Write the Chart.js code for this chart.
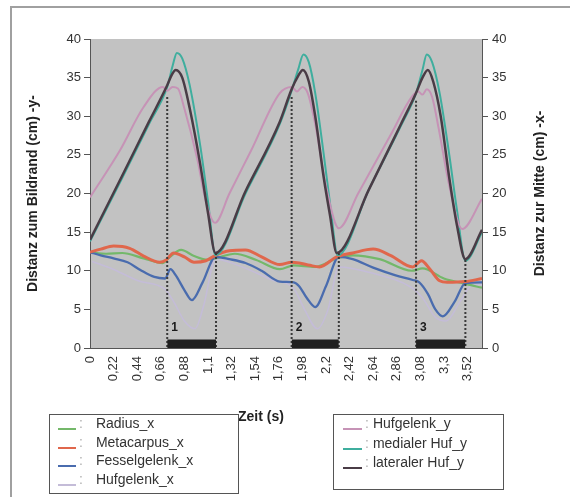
<!DOCTYPE html>
<html lang="de">
<head>
    <meta charset="UTF-8">
    <title>Distanz-Zeit-Verlauf</title>
    <script src="https://cdn.jsdelivr.net/npm/chart.js"></script>
    <style>
        body {
            margin: 0;
            background: #fff;
            font-family: "Liberation Sans", Arial, sans-serif;
        }
        #wrap {
            position: relative;
            width: 570px;
            height: 497px;
            overflow: hidden;
        }
        #chart {
            position: absolute;
            left: 0;
            top: 0;
        }
        #frame {
            position: absolute;
            left: 10px;
            top: 6px;
            width: 580px;
            height: 520px;
            border: 2px solid #a0a0a0;
        }
        .legend {
            position: absolute;
            border: 1px solid #555;
            background: #fff;
        }
        .row {
            position: absolute;
            font-size: 14px;
            color: #333;
            white-space: nowrap;
            line-height: 16px;
        }
        .sample {
            position: absolute;
            height: 2px;
        }
        .colon {
            color: #b0b0b0;
        }
        #xTitle {
            position: absolute;
            left: 238px;
            top: 408px;
            font-weight: bold;
            font-size: 14px;
            color: #222;
        }
    </style>
</head>
<body>
<div id="wrap">
    <div id="frame"></div>
    <canvas id="chart" width="570" height="497"></canvas>
    <div id="xTitle">Zeit (s)</div>
    <div class="legend" id="legendX" style="left:49px;top:414px;width:188px;height:78px;"></div>
    <div class="legend" id="legendY" style="left:333px;top:414px;width:169px;height:74px;"></div>
</div>

<script>
    // Zeitachse
    const xTicks = [0, 0.22, 0.44, 0.66, 0.88, 1.1, 1.32, 1.54, 1.76, 1.98, 2.2, 2.42, 2.64, 2.86, 3.08, 3.3, 3.52];
    const xTickLabels = ['0', '0,22', '0,44', '0,66', '0,88', '1,1', '1,32', '1,54', '1,76', '1,98', '2,2', '2,42', '2,64', '2,86', '3,08', '3,3', '3,52'];

    // -y- Kurven (Distanz zum Bildrand)
    const lateralT = [0, 0.3, 0.55, 0.72, 0.76, 0.8, 0.86, 0.93, 1.025, 1.1, 1.17, 1.45, 1.77, 1.88, 1.94, 1.985, 2.04, 2.1, 2.18, 2.24, 2.3, 2.6, 2.9, 3.04, 3.1, 3.15, 3.2, 3.27, 3.35, 3.42, 3.5, 3.655];
    const lateralV = [14, 22.3, 29.3, 34, 35.3, 36, 35, 31, 24, 17.5, 12.3, 20.3, 29.3, 33.5, 35.2, 36, 34.5, 30, 22, 17, 12.3, 20.5, 29, 33, 35, 36, 34.5, 30, 22, 16, 11.5, 15.3];

    const medialT = [0, 0.3, 0.55, 0.72, 0.77, 0.81, 0.86, 0.93, 1.03, 1.1, 1.17, 1.45, 1.77, 1.88, 1.94, 1.99, 2.04, 2.1, 2.18, 2.24, 2.31, 2.6, 2.9, 3.04, 3.1, 3.14, 3.19, 3.26, 3.35, 3.42, 3.5, 3.655];
    const medialV = [13.8, 22, 29, 33.8, 36.5, 38.2, 37.5, 34, 26, 19, 12, 20, 29, 33.3, 36, 38, 37, 33, 25, 18.5, 12, 20.5, 28.8, 33, 36, 38, 37, 33, 25, 18, 11.3, 15];

    const hufYT = [0, 0.28, 0.5, 0.68, 0.72, 0.77, 0.82, 0.88, 1.0, 1.08, 1.165, 1.3, 1.5, 1.77, 1.88, 1.93, 1.98, 2.03, 2.1, 2.2, 2.32, 2.5, 2.8, 3.0, 3.06, 3.1, 3.14, 3.19, 3.25, 3.35, 3.47, 3.655];
    const hufYV = [19.5, 25.6, 31.2, 33.8, 33.3, 33.8, 33.6, 31, 24.5, 19, 16.2, 20, 25.5, 33, 33.8, 33.2, 33.8, 33, 29, 21, 15.5, 20, 27.5, 32.5, 33.2, 32.8, 33.5, 32.5, 28.5, 21, 15.4, 19.3];

    // -x- Kurven (Distanz zur Mitte)
    const radiusT = [0, 0.15, 0.3, 0.5, 0.68, 0.73, 0.85, 0.97, 1.1, 1.17, 1.35, 1.55, 1.77, 1.9, 2.1, 2.3, 2.45, 2.7, 3.0, 3.1, 3.3, 3.5, 3.655];
    const radiusV = [12.4, 12.2, 12.3, 11.6, 11, 11.6, 12.7, 11.9, 11.4, 11.6, 12.2, 11.4, 10.2, 10.7, 10.5, 11.6, 12, 11.5, 10, 10.3, 9, 8.3, 7.8];

    const metaT = [0, 0.1, 0.22, 0.37, 0.5, 0.65, 0.71, 0.78, 0.88, 0.97, 1.08, 1.17, 1.3, 1.45, 1.6, 1.77, 1.88, 1.95, 2.05, 2.14, 2.3, 2.45, 2.64, 2.8, 3.01, 3.09, 3.17, 3.26, 3.33, 3.5, 3.655];
    const metaV = [12.4, 12.8, 13.2, 12.9, 11.9, 11.1, 11.4, 12.3, 11.8, 11.1, 11.3, 12, 12.6, 12.7, 11.8, 10.8, 11.1, 11, 10.7, 10.5, 11.8, 12.3, 12.8, 12, 10.5, 11.3, 10.2, 8.7, 8.5, 8.6, 9];

    const fesselT = [0, 0.1, 0.22, 0.35, 0.47, 0.6, 0.7, 0.75, 0.8, 0.88, 0.95, 1.05, 1.17, 1.3, 1.45, 1.6, 1.77, 1.9, 1.95, 2.02, 2.1, 2.2, 2.32, 2.45, 2.64, 2.85, 3.01, 3.07, 3.15, 3.22, 3.29, 3.4, 3.5, 3.655];
    const fesselV = [12.4, 12, 11.6, 11.1, 10.1, 9.2, 9.0, 10.2, 9.4, 7.5, 6.2, 8.5, 11.8, 11.5, 11, 10, 8.6, 8.5, 8.0, 6.5, 5.3, 8, 11.8, 11.5, 10.4, 9.4, 8.8, 8.5, 7, 5, 4.1, 6, 8.4, 8.5];

    const hufXT = [0.02, 0.2, 0.45, 0.7, 0.78, 0.88, 0.98, 1.06, 1.17, 1.4, 1.7, 1.9, 2.0, 2.12, 2.22, 2.32, 2.6, 3.0, 3.1, 3.22, 3.32, 3.45, 3.55, 3.655];
    const hufXV = [11.2, 10.3, 8.7, 7.6, 6, 3.5, 2.5, 5.5, 11.5, 10.6, 8.8, 7.7, 5, 2.5, 5, 10.5, 9.8, 7.8, 6.5, 4, 3.5, 6, 8, 8.2];

    // Stützphasen 1-3
    const phaseLabels = ['1', '2', '3'];
    const phaseStart = [0.72, 1.88, 3.04];
    const phaseEnd = [1.175, 2.32, 3.5];
    const startTop = [32.5, 32.5, 32];
    const endTop = [12.3, 12.3, 11.4];
    const barHeight = 1.1;

    const pts = (t, v) => t.map((x, i) => ({ x: x, y: v[i] }));

    function curve(label, t, v, color, width, axis, order) {
        return {
            label: label,
            data: pts(t, v),
            borderColor: color,
            borderWidth: width,
            pointRadius: 0,
            cubicInterpolationMode: 'monotone',
            fill: false,
            yAxisID: axis,
            order: order
        };
    }

    const series = [
        curve('Radius_x', radiusT, radiusV, '#74b86a', 2.2, 'y2', 6),
        curve('Metacarpus_x', metaT, metaV, '#e0674c', 3, 'y2', 4),
        curve('Fesselgelenk_x', fesselT, fesselV, '#4a6cae', 2.3, 'y2', 5),
        curve('Hufgelenk_x', hufXT, hufXV, '#c4bcd8', 1.5, 'y2', 7),
        curve('Hufgelenk_y', hufYT, hufYV, '#c693b6', 2, 'y', 2),
        curve('medialer Huf_y', medialT, medialV, '#3fae9e', 2, 'y', 3),
        curve('lateraler Huf_y', lateralT, lateralV, '#4a3c46', 2.5, 'y', 1)
    ];

    const extras = [];
    phaseStart.forEach((s, i) => {
        extras.push({
            data: [{ x: s, y: barHeight }, { x: phaseEnd[i], y: barHeight }],
            borderWidth: 0, pointRadius: 0, fill: 'origin',
            backgroundColor: '#202020', borderColor: '#202020', order: 0
        });
        extras.push({
            data: [{ x: s, y: startTop[i] }, { x: s, y: 0 }],
            borderColor: '#3a3a3a', borderWidth: 2, borderDash: [2, 2], pointRadius: 0, fill: false, order: 0
        });
        extras.push({
            data: [{ x: phaseEnd[i], y: endTop[i] }, { x: phaseEnd[i], y: 0 }],
            borderColor: '#3a3a3a', borderWidth: 2, borderDash: [2, 2], pointRadius: 0, fill: false, order: 0
        });
    });

    const plotBg = {
        id: 'plotBg',
        beforeDraw(chart) {
            const a = chart.chartArea;
            const c = chart.ctx;
            c.save();
            c.fillStyle = '#c2c2c2';
            c.fillRect(a.left, a.top, a.right - a.left, a.bottom - a.top);
            c.restore();
        },
        afterDraw(chart) {
            const c = chart.ctx;
            const xs = chart.scales.x, ys = chart.scales.y;
            c.save();
            // Phasennummern
            c.font = 'bold 12px "Liberation Sans", Arial';
            c.fillStyle = '#1a1a1a';
            c.textBaseline = 'middle';
            phaseStart.forEach((s, i) => {
                c.fillText(phaseLabels[i], xs.getPixelForValue(s) + 4, ys.getPixelForValue(2.6));
            });
            // rechter Achsentitel (von unten nach oben)
            const a = chart.chartArea;
            c.translate(540, (a.top + a.bottom) / 2);
            c.rotate(-Math.PI / 2);
            c.font = 'bold 14px "Liberation Sans", Arial';
            c.fillStyle = '#222';
            c.textAlign = 'center';
            c.fillText('Distanz zur Mitte (cm) -x-', 0, 0);
            c.restore();
        }
    };

    const tickFont = { family: '"Liberation Sans", Arial', size: 13 };

    new Chart(document.getElementById('chart'), {
        type: 'line',
        data: { datasets: series.concat(extras) },
        options: {
            responsive: false,
            animation: false,
            layout: { padding: { top: 39, left: 0, right: 0, bottom: 0 } },
            plugins: { legend: { display: false }, tooltip: { enabled: false } },
            scales: {
                x: {
                    type: 'linear',
                    min: 0,
                    max: 3.655,
                    afterBuildTicks: s => { s.ticks = xTicks.map(v => ({ value: v })); },
                    afterFit: s => { s.height = 149; },
                    ticks: {
                        autoSkip: false,
                        minRotation: 90,
                        maxRotation: 90,
                        padding: 8,
                        color: '#333',
                        font: tickFont,
                        callback: (v, i) => xTickLabels[i]
                    },
                    grid: { display: false, drawTicks: false },
                    border: { color: '#555', width: 1 }
                },
                y: {
                    position: 'left',
                    min: 0,
                    max: 40,
                    afterFit: s => { s.width = 90; },
                    ticks: { stepSize: 5, color: '#333', padding: 3, font: tickFont },
                    grid: { drawOnChartArea: false, tickLength: 6, color: '#555' },
                    border: { color: '#555', width: 1 },
                    title: {
                        display: true,
                        text: 'Distanz zum Bildrand (cm) -y-',
                        color: '#222',
                        font: { family: '"Liberation Sans", Arial', size: 14, weight: 'bold' },
                        padding: { top: 25, bottom: 0 }
                    }
                },
                y2: {
                    position: 'right',
                    min: 0,
                    max: 40,
                    afterFit: s => { s.width = 88; },
                    ticks: { stepSize: 5, color: '#333', padding: 4, font: tickFont },
                    grid: { drawOnChartArea: false, tickLength: 6, color: '#555' },
                    border: { color: '#555', width: 1 }
                }
            }
        },
        plugins: [plotBg]
    });

    // Legenden
    function buildLegend(id, items, opt) {
        const box = document.getElementById(id);
        items.forEach((ds, i) => {
            const top = opt.top + i * opt.step;
            const line = document.createElement('div');
            line.className = 'sample';
            line.style.left = opt.lineX + 'px';
            line.style.width = opt.lineW + 'px';
            line.style.top = (top + 13) + 'px';
            line.style.background = ds.borderColor;
            box.appendChild(line);
            const row = document.createElement('div');
            row.className = 'row';
            row.style.left = opt.textX + 'px';
            row.style.top = top + 'px';
            row.innerHTML = '<span class="colon" style="margin-right:' + opt.gap + 'px">:</span>' + ds.label;
            box.appendChild(row);
        });
    }
    buildLegend('legendX', series.slice(0, 4), { top: 0, step: 18.7, lineX: 8, lineW: 18, textX: 29, gap: 13 });
    buildLegend('legendY', series.slice(4), { top: 0, step: 19.5, lineX: 9, lineW: 19, textX: 31, gap: 4 });
</script>
</body>
</html>
